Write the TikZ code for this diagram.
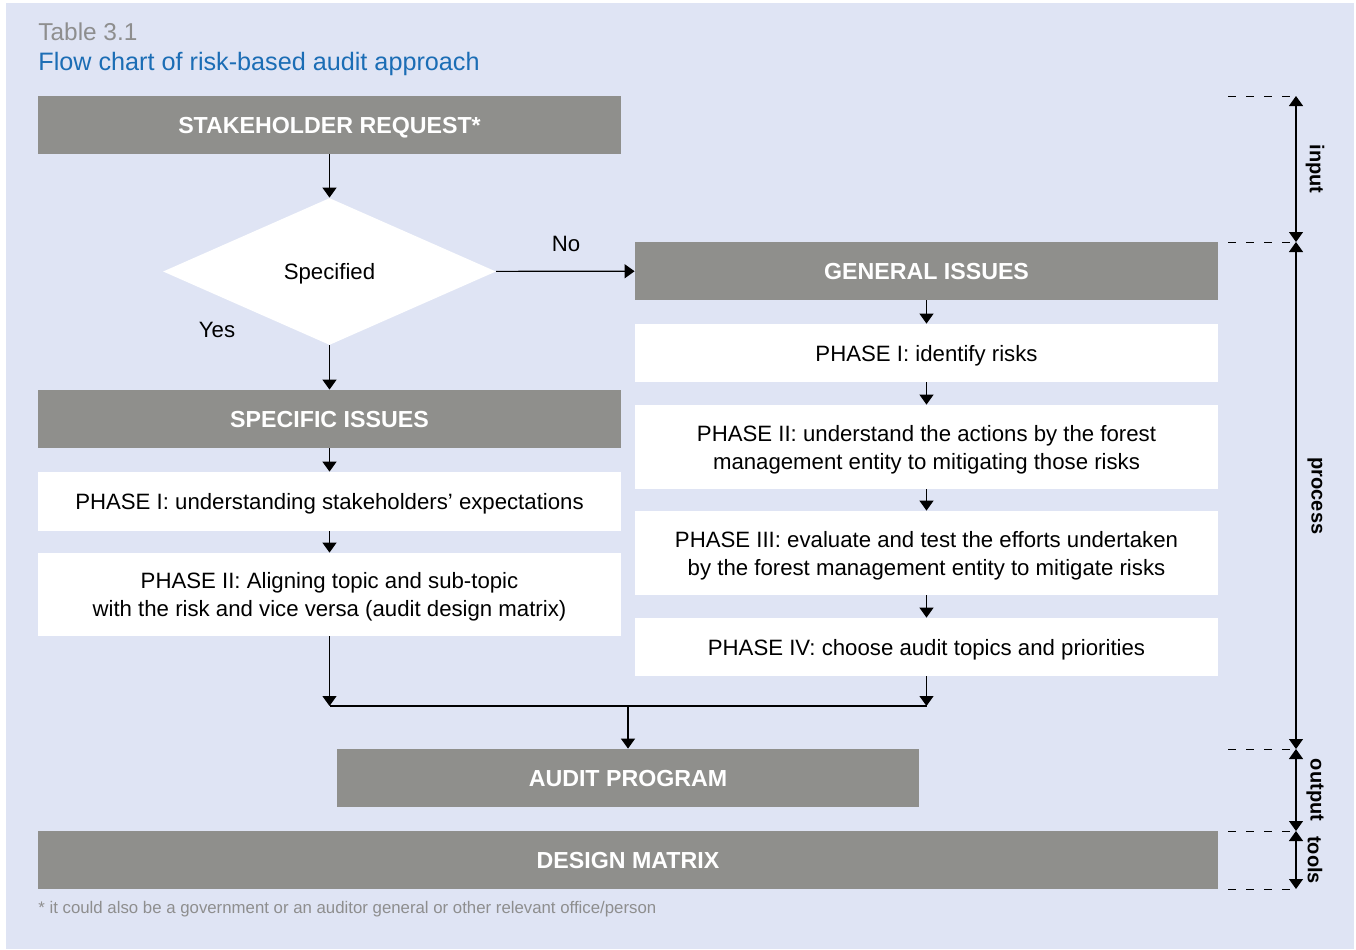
\documentclass[tikz,border=0pt]{standalone}
\usepackage{fontspec}
\setmainfont{Liberation Sans}
\usetikzlibrary{arrows.meta,shapes.geometric}
\definecolor{bgblue}{HTML}{DFE4F4}
\definecolor{boxgray}{HTML}{8F8F8C}
\definecolor{titleblue}{HTML}{1B6DB5}
\definecolor{notegray}{HTML}{8E8E8E}
\begin{document}
\begin{tikzpicture}[x=0.5pt,y=-0.5pt,>={Triangle[width=7pt,length=5pt]},
	head/.style={fill=boxgray,text=white,font=\bfseries\fontsize{11.6}{13}\selectfont,minimum height=29pt,inner sep=0pt,text depth=0pt},
	phase/.style={fill=white,align=center,font=\fontsize{11.1}{14}\selectfont,minimum width=291.5pt,inner sep=0pt,text depth=0pt},
	flow/.style={->,line width=0.6pt},
	guide/.style={dash pattern=on 4pt off 5pt,line width=0.5pt},
	side/.style={font=\bfseries\fontsize{10}{12}\selectfont,rotate=-90,inner sep=0pt}]
	\useasboundingbox (0,0) rectangle (1356,949);
	\fill[bgblue] (6,3) rectangle (1354,949);
	
	\node[anchor=base west,inner sep=0pt,text=notegray,font=\fontsize{12.2}{14}\selectfont] (tab) at (38,40) {Table 3.1};
	\node[anchor=base west,inner sep=0pt,text=titleblue,font=\fontsize{12.6}{14}\selectfont] (title) at (38,70) {Flow chart of risk-based audit approach};
	
	\node[head,minimum width=291.5pt] (req) at (329.5,125) {STAKEHOLDER REQUEST*};
	\node[diamond,fill=white,minimum width=166.5pt,minimum height=73.5pt,inner sep=0pt,text depth=0pt,font=\fontsize{11.1}{14}\selectfont] (spec) at (329.5,271.5) {Specified};
	\node[font=\fontsize{11.1}{14}\selectfont] (no) at (566,244) {No};
	\node[font=\fontsize{11.1}{14}\selectfont] (yes) at (217,330) {Yes};
	\node[head,minimum width=291.5pt] (specific) at (329.5,419) {SPECIFIC ISSUES};
	\node[phase,minimum height=29.5pt] (sp1) at (329.5,501.5) {PHASE I: understanding stakeholders’ expectations};
	\node[phase,minimum height=41.5pt] (sp2) at (329.5,594.5) {PHASE II: Aligning topic and sub-topic\\with the risk and vice versa (audit design matrix)};
	
	\node[head,minimum width=291.5pt] (general) at (926.5,271) {GENERAL ISSUES};
	\node[phase,minimum height=29pt] (gp1) at (926.5,353) {PHASE I: identify risks};
	\node[phase,minimum height=42pt] (gp2) at (926.5,447) {PHASE II: understand the actions by the forest\\management entity to mitigating those risks};
	\node[phase,minimum height=42pt] (gp3) at (926.5,553) {PHASE III: evaluate and test the efforts undertaken\\by the forest management entity to mitigate risks};
	\node[phase,minimum height=29pt] (gp4) at (926.5,647) {PHASE IV: choose audit topics and priorities};
	
	\node[head,minimum width=291pt] (audit) at (628,778) {AUDIT PROGRAM};
	\node[head,minimum width=590pt] (matrix) at (628,860) {DESIGN MATRIX};
	\node[anchor=base west,inner sep=0pt,text=notegray,font=\fontsize{8.4}{10}\selectfont] (note) at (38,913) {* it could also be a government or an auditor general or other relevant office/person};
	
	\coordinate (jl) at (329.5,706);
	\coordinate (jm) at (628,706);
	\coordinate (jr) at (926.5,706);
	
	\draw[flow] (req) -- (spec);
	\draw[flow] (spec) -- (general);
	\draw[flow] (spec) -- (specific);
	\draw[flow] (specific) -- (sp1);
	\draw[flow] (sp1) -- (sp2);
	\draw[flow] (sp2) -- (jl);
	\draw[flow] (general) -- (gp1);
	\draw[flow] (gp1) -- (gp2);
	\draw[flow] (gp2) -- (gp3);
	\draw[flow] (gp3) -- (gp4);
	\draw[flow] (gp4) -- (jr);
	\draw[line width=0.6pt] (jl) -- (jr);
	\draw[flow] (jm) -- (audit);
	
	\foreach \n/\y in {d1/96,d2/242,d3/749,d4/831,d5/889}{
		\coordinate (\n) at (1296,\y);
		\draw[guide] (1228,\y) -- (\n);
	}
	\draw[<->,line width=0.6pt] (d1) -- (d2);
	\draw[<->,line width=0.6pt] (d2) -- (d3);
	\draw[<->,line width=0.6pt] (d3) -- (d4);
	\draw[<->,line width=0.6pt] (d4) -- (d5);
	\node[side] (lin) at (1315,169) {input};
	\node[side] (lpro) at (1315,496) {process};
	\node[side] (lout) at (1315,790) {output};
	\node[side] (ltool) at (1315,860) {tools};
\end{tikzpicture}
\end{document}
